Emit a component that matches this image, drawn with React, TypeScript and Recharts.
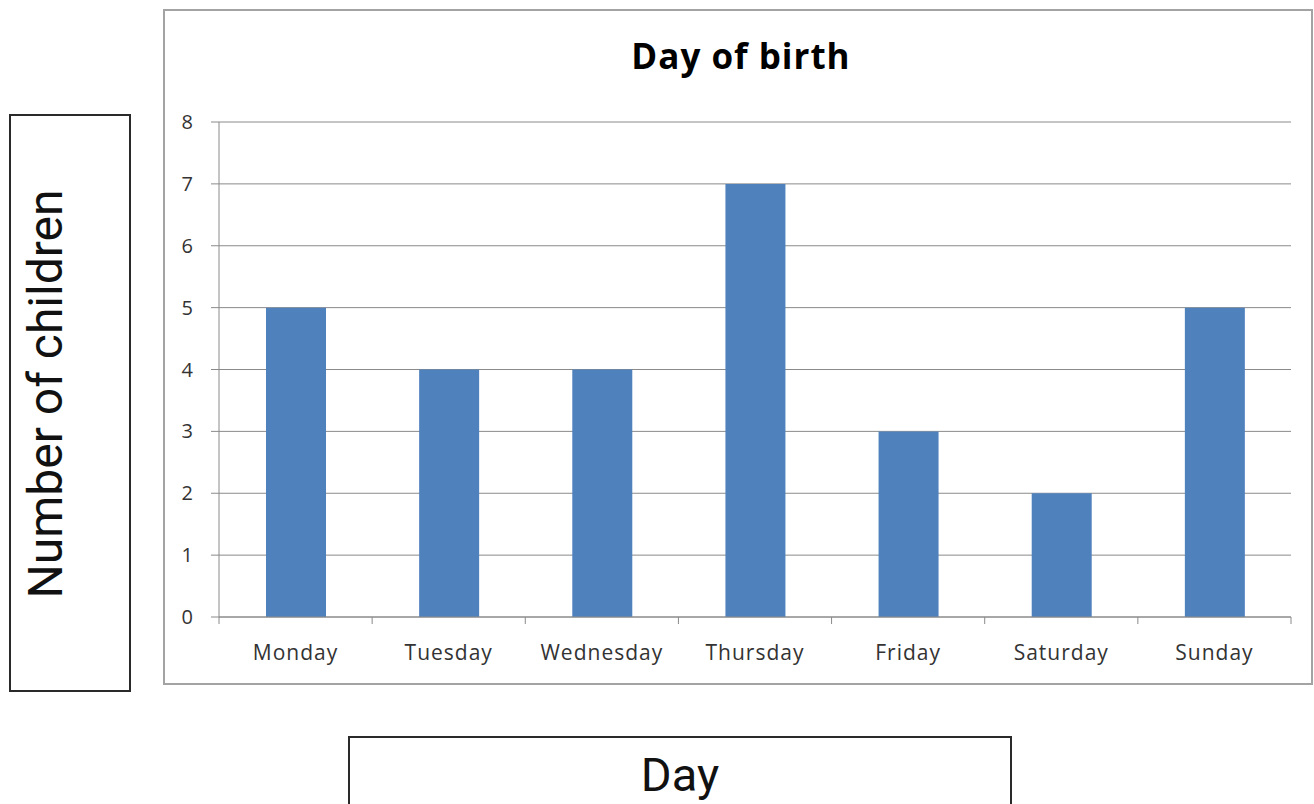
import { BarChart, Bar, XAxis, YAxis, CartesianGrid } from "recharts";

const days = ["Monday", "Tuesday", "Wednesday", "Thursday", "Friday", "Saturday", "Sunday"];
const children = [5, 4, 4, 7, 3, 2, 5];
const yTicks = [0, 1, 2, 3, 4, 5, 6, 7, 8];

const W = 1314;
const H = 804;
const PLOT_LEFT = 219;
const PLOT_RIGHT = 1291;
const PLOT_TOP = 122;
const PLOT_BOTTOM = 617;
const Y_AXIS_W = 60;
const X_AXIS_H = 40;
const BAND = (PLOT_RIGHT - PLOT_LEFT) / days.length;

const gridColor = "#8a8a8a";
const labelFont = "'Open Sans', sans-serif";

const chartData = days.map((d, i) => ({ name: d, value: children[i] }));

interface TickProps {
  x?: number;
  y?: number;
  index?: number;
  payload?: { value: string | number; index?: number };
}

function DayTick({ x = 0, y = 0, index, payload }: TickProps) {
  const i = index ?? payload?.index ?? 0;
  const left = x - BAND / 2;
  return (
    <g>
      <line x1={left} y1={y} x2={left} y2={y + 7} stroke={gridColor} />
      {i === days.length - 1 && (
        <line x1={x + BAND / 2} y1={y} x2={x + BAND / 2} y2={y + 7} stroke={gridColor} />
      )}
      <text
        x={x}
        y={y + 43}
        textAnchor="middle"
        fill="#333"
        fontSize={21}
        fontFamily={labelFont}
        letterSpacing={1}
      >
        {payload?.value}
      </text>
    </g>
  );
}

function CountTick({ x = 0, y = 0, payload }: TickProps) {
  return (
    <text x={x} y={y + 7} textAnchor="end" fill="#333" fontSize={20} fontFamily={labelFont}>
      {payload?.value}
    </text>
  );
}

export default function App() {
  return (
    <div
      style={{
        position: "absolute",
        left: 0,
        top: 0,
        width: W,
        height: H,
        overflow: "hidden",
        background: "#fff",
      }}
    >
      {/* chart frame */}
      <div
        style={{
          position: "absolute",
          left: 163,
          top: 9,
          width: 1150,
          height: 676,
          border: "2px solid #a3a3a3",
          boxSizing: "border-box",
        }}
      />
      <div
        style={{
          position: "absolute",
          left: 0,
          top: 38,
          width: 1482,
          textAlign: "center",
          fontFamily: labelFont,
          fontWeight: 700,
          fontSize: 35,
          lineHeight: 1,
          letterSpacing: 1,
          color: "#000",
        }}
      >
        Day of birth
      </div>
      <div style={{ position: "absolute", left: 0, top: 0 }}>
        <BarChart
          width={W}
          height={H}
          data={chartData}
          margin={{
            top: PLOT_TOP,
            right: W - PLOT_RIGHT,
            left: PLOT_LEFT - Y_AXIS_W,
            bottom: H - PLOT_BOTTOM - X_AXIS_H,
          }}
        >
          <CartesianGrid vertical={false} stroke={gridColor} />
          <XAxis
            dataKey="name"
            height={X_AXIS_H}
            axisLine={{ stroke: gridColor }}
            tickLine={false}
            tickSize={0}
            tickMargin={0}
            interval={0}
            tick={<DayTick />}
          />
          <YAxis
            width={Y_AXIS_W}
            domain={[0, 8]}
            ticks={yTicks}
            interval={0}
            axisLine={{ stroke: gridColor }}
            tickLine={{ stroke: gridColor }}
            tickSize={8}
            tickMargin={18}
            tick={<CountTick />}
          />
          <Bar dataKey="value" fill="#4f81bd" barSize={60} isAnimationActive={false} />
        </BarChart>
      </div>
      {/* y label box */}
      <div
        style={{
          position: "absolute",
          left: 9,
          top: 114,
          width: 122,
          height: 578,
          border: "2px solid #2a2a2a",
          boxSizing: "border-box",
        }}
      />
      <div
        style={{
          position: "absolute",
          left: 46,
          top: 394,
          transform: "translate(-50%, -50%) rotate(-90deg)",
          whiteSpace: "nowrap",
          fontFamily: "Roboto, sans-serif",
          fontSize: 48,
          lineHeight: 1,
          color: "#111",
        }}
      >
        Number of children
      </div>
      {/* x label box */}
      <div
        style={{
          position: "absolute",
          left: 348,
          top: 736,
          width: 664,
          height: 100,
          border: "2px solid #2a2a2a",
          boxSizing: "border-box",
        }}
      />
      <div
        style={{
          position: "absolute",
          left: 348,
          top: 751,
          width: 664,
          textAlign: "center",
          fontFamily: "Roboto, sans-serif",
          fontSize: 47,
          lineHeight: 1,
          color: "#111",
        }}
      >
        Day
      </div>
    </div>
  );
}
